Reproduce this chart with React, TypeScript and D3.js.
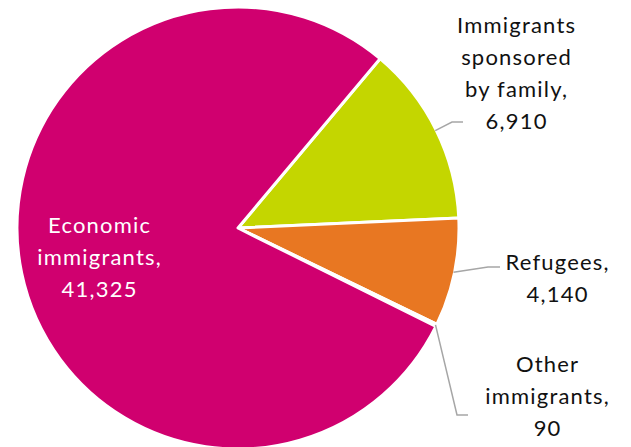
import React from "react";
import * as d3 from "d3";

const categories = ["Immigrants sponsored by family", "Refugees", "Other immigrants", "Economic immigrants"];
const values = [6910, 4140, 90, 41325];
const labelLines = [
  ["Immigrants", "sponsored", "by family,", "6,910"],
  ["Refugees,", "4,140"],
  ["Other", "immigrants,", "90"],
  ["Economic", "immigrants,", "41,325"],
];
const colors = ["#C4D600", "#E87722", "#E87722", "#D0006F"];

const W = 631;
const H = 447;
const cx = 238;
const cy = 228;
const R = 221;
const startDeg = 40;
const lineH = 32;

// label layout: center x, first baseline, leader elbow and end (null = inside)
const layout = [
  { x: 516, y: 33, elbow: [452, 122], end: [463, 122], color: "#111" },
  { x: 557, y: 270, elbow: [488, 267], end: [500, 267], color: "#111" },
  { x: 547, y: 372, elbow: [457, 415], end: [468, 415], color: "#111" },
  { x: 99, y: 233, elbow: null, end: null, color: "#fff" },
];

export default function App() {
  const pie = d3
    .pie<number>()
    .sort(null)
    .value((d) => d)
    .startAngle((startDeg * Math.PI) / 180)
    .endAngle((startDeg * Math.PI) / 180 + 2 * Math.PI);
  const arcs = pie(values);
  const arc = d3.arc<d3.PieArcDatum<number>>().innerRadius(0).outerRadius(R);

  return (
    <svg
      width={W}
      height={H}
      style={{ position: "absolute", left: 0, top: 0, background: "#fff" }}
      fontFamily="Lato, 'Open Sans', sans-serif"
    >
      <g transform={`translate(${cx},${cy})`}>
        {arcs.map((a, i) => (
          <path key={categories[i]} d={arc(a) || ""} fill={colors[i]} stroke="#fff" strokeWidth={3} strokeLinejoin="round" />
        ))}
      </g>
      {arcs.map((a, i) => {
        const L = layout[i];
        if (!L.elbow || !L.end) return null;
        const mid = (a.startAngle + a.endAngle) / 2;
        const sx = cx + Math.sin(mid) * (R - 1);
        const sy = cy - Math.cos(mid) * (R - 1);
        return (
          <polyline
            key={"l" + i}
            points={`${sx},${sy} ${L.elbow[0]},${L.elbow[1]} ${L.end[0]},${L.end[1]}`}
            fill="none"
            stroke="#A6A6A6"
            strokeWidth={1.5}
          />
        );
      })}
      {labelLines.map((lines, i) => (
        <text
          key={"t" + i}
          x={layout[i].x}
          y={layout[i].y}
          textAnchor="middle"
          fontSize={22}
          letterSpacing={1.2}
          fill={layout[i].color}
        >
          {lines.map((ln, j) => (
            <tspan key={j} x={layout[i].x + 0.6} y={layout[i].y + j * lineH}>
              {ln}
            </tspan>
          ))}
        </text>
      ))}
    </svg>
  );
}
